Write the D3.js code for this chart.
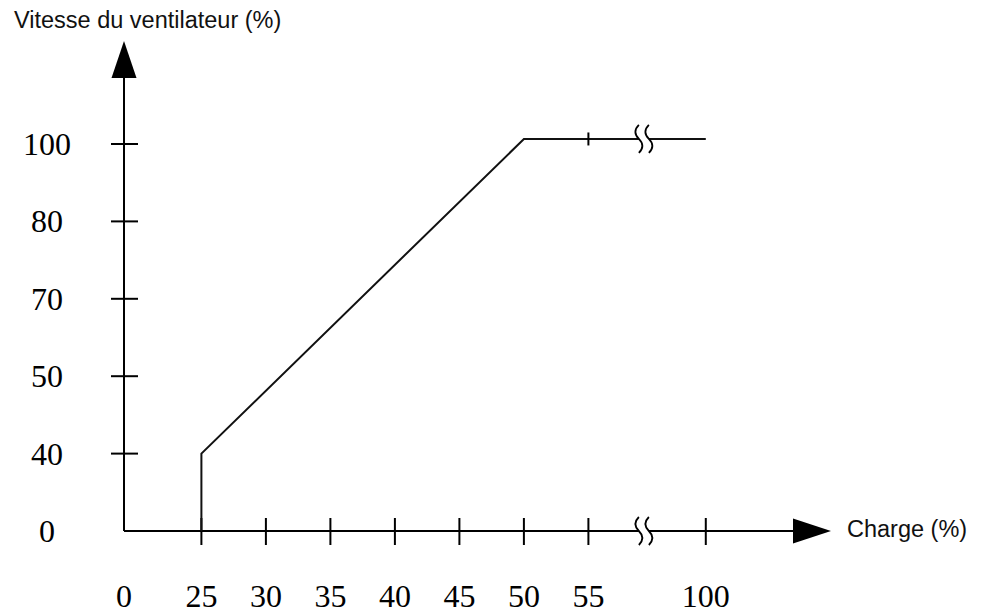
<!DOCTYPE html>
<html>
<head>
<meta charset="utf-8">
<script src="https://cdn.jsdelivr.net/npm/d3@7/dist/d3.min.js"></script>
<style>
    body { margin: 0; background: #fff; }
</style>
</head>
<body>
<div id="chart"></div>
<script>
// Data
const charge = [25, 25, 50, 100];
const vitesse = [0, 40, 101.3, 101.3];
const xTicks = [0, 25, 30, 35, 40, 45, 50, 55, 100];
const yTicks = [0, 40, 50, 70, 80, 100];
const xTitle = "Charge (%)";
const yTitle = "Vitesse du ventilateur (%)";

// Layout: ticks sit on slots, not on a true linear axis
const xSlots = [0, 1.2, 2.2, 3.2, 4.2, 5.2, 6.2, 7.2, 9.02];
const xBreakSlot = 8.06;
const xStep = 64.5;
const yStep = 77.4;
const origin = {x: 124, y: 531};

const SERIF = "'Liberation Serif', 'Times New Roman', serif";
const SANS = "'Liberation Sans', Arial, sans-serif";

let svg = d3.select("#chart")
    .append("svg")
    .attr("width", 985)
    .attr("height", 615);

// Scales
let x = d3.scaleLinear()
    .domain(xTicks)
    .range(xSlots.map(function (s) {
        return origin.x + s * xStep;
    }));
let y = d3.scaleLinear()
    .domain(yTicks)
    .range(yTicks.map(function (d, i) {
        return origin.y - i * yStep;
    }));
let breakX = origin.x + xBreakSlot * xStep;

// Axes lines
let axes = svg.append("g")
    .attr("stroke", "#000")
    .attr("stroke-width", 2);
axes.append("line")
    .attr("x1", origin.x).attr("y1", origin.y)
    .attr("x2", 793).attr("y2", origin.y);
axes.append("line")
    .attr("x1", origin.x).attr("y1", origin.y)
    .attr("x2", origin.x).attr("y2", 78);

// Arrow heads
svg.append("path")
    .attr("d", `M${origin.x},41 L${origin.x - 12.5},78 L${origin.x + 12.5},78 Z`)
    .attr("fill", "#000");
svg.append("path")
    .attr("d", `M831,${origin.y} L793,${origin.y - 12.5} L793,${origin.y + 12.5} Z`)
    .attr("fill", "#000");

// Ticks
axes.selectAll(".xtick")
    .data(xTicks.filter(function (d) { return d > 0; }))
    .enter().append("line")
    .attr("class", "xtick")
    .attr("x1", function (d) { return x(d); })
    .attr("x2", function (d) { return x(d); })
    .attr("y1", origin.y - 13)
    .attr("y2", origin.y + 14);
axes.selectAll(".ytick")
    .data(yTicks.filter(function (d) { return d > 0; }))
    .enter().append("line")
    .attr("class", "ytick")
    .attr("y1", function (d) { return y(d); })
    .attr("y2", function (d) { return y(d); })
    .attr("x1", origin.x - 13)
    .attr("x2", origin.x + 14);

// Tick labels
svg.selectAll(".xlabel")
    .data(xTicks)
    .enter().append("text")
    .attr("class", "xlabel")
    .attr("x", function (d) { return x(d); })
    .attr("y", 607)
    .attr("text-anchor", "middle")
    .attr("font-family", SERIF)
    .attr("font-size", 32)
    .attr("fill", "#000")
    .text(function (d) { return d; });
svg.selectAll(".ylabel")
    .data(yTicks)
    .enter().append("text")
    .attr("class", "ylabel")
    .attr("x", 47)
    .attr("y", function (d) { return y(d) + 11; })
    .attr("text-anchor", "middle")
    .attr("font-family", SERIF)
    .attr("font-size", 32)
    .attr("fill", "#000")
    .text(function (d) { return d; });

// Titles
svg.append("text")
    .attr("x", 14)
    .attr("y", 28)
    .attr("font-family", SANS)
    .attr("font-size", 23.5)
    .attr("fill", "#111")
    .text(yTitle);
svg.append("text")
    .attr("x", 847)
    .attr("y", 537)
    .attr("font-family", SANS)
    .attr("font-size", 23.5)
    .attr("fill", "#111")
    .text(xTitle);

// The line
let points = d3.zip(charge, vitesse);
let lineGenerator = d3.line()
    .x(function (d) { return x(d[0]); })
    .y(function (d) { return y(d[1]); });
svg.append("path")
    .datum(points)
    .attr("fill", "none")
    .attr("stroke", "#111")
    .attr("stroke-width", 2)
    .attr("d", lineGenerator);

// Small tick at 55 on the plateau
let plateauY = y(vitesse[vitesse.length - 1]);
svg.append("line")
    .attr("x1", x(55)).attr("x2", x(55))
    .attr("y1", plateauY - 6.5).attr("y2", plateauY + 6.5)
    .attr("stroke", "#000")
    .attr("stroke-width", 2);

// Break marks (two wavy strokes) on the plateau and on the x axis
function drawBreak(cy) {
    let g = svg.append("g");
    g.append("rect")
        .attr("x", breakX - 5)
        .attr("y", cy - 4)
        .attr("width", 10)
        .attr("height", 8)
        .attr("fill", "#fff");
    [-5, 5].forEach(function (dx) {
        let cx = breakX + dx;
        g.append("path")
            .attr("d", `M${cx},${cy - 14} Q${cx - 7},${cy - 7} ${cx},${cy} T${cx},${cy + 14}`)
            .attr("fill", "none")
            .attr("stroke", "#000")
            .attr("stroke-width", 1.8);
    });
}
drawBreak(plateauY);
drawBreak(origin.y);
</script>
</body>
</html>
